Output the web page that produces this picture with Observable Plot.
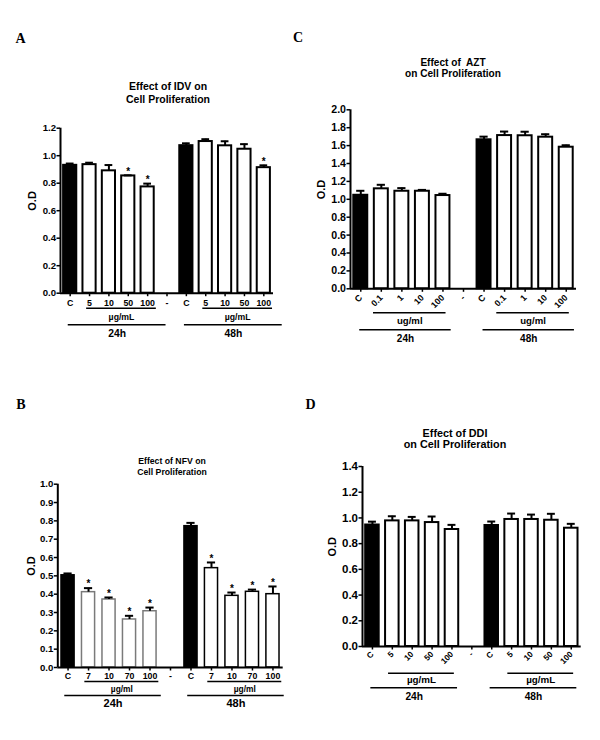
<!DOCTYPE html>
<html><head><meta charset="utf-8">
<script src="https://cdn.jsdelivr.net/npm/d3@7"></script>
<script src="https://cdn.jsdelivr.net/npm/@observablehq/plot@0.6"></script>
<style>
html,body{margin:0;padding:0;background:#fff;}
#page{position:relative;width:600px;height:740px;overflow:hidden;background:#fff;font-family:"Liberation Sans",Arial,sans-serif;}
.lbl{position:absolute;transform:translate(-50%,-50%);white-space:pre;line-height:1;font-weight:bold;color:#000;}
.letter{font-family:"Liberation Serif","Times New Roman",serif;}
.panel{position:absolute;}
.panel svg{overflow:visible;}
</style></head><body><div id="page"></div>
<script>
// ---------- data ----------
const groupNames = ["24h", "48h"];
const yLabel = "O.D";

const lettersList = ["A", "C", "B", "D"];

const titleA = ["Effect of IDV on", "Cell Proliferation"];
const labelsA = ["C","5","10","50","100","-","C","5","10","50","100"];
const odA  = [0.930, 0.935, 0.890, 0.853, 0.773, null, 1.073, 1.103, 1.072, 1.047, 0.913];
const semA = [0.013, 0.014, 0.042, 0.004, 0.024, null, 0.017, 0.017, 0.033, 0.037, 0.017];
const sigA = [0,0,0,1,1,0,0,0,0,0,1];
const unitA = "µg/mL";
const yTicksA = [0, 0.2, 0.4, 0.6, 0.8, 1.0, 1.2];

const titleC = ["Effect of  AZT", "on Cell Proliferation"];
const labelsC = ["C","0.1","1","10","100","-","C","0.1","1","10","100"];
const odC  = [1.045, 1.117, 1.090, 1.090, 1.042, null, 1.665, 1.712, 1.710, 1.694, 1.582];
const semC = [0.050, 0.045, 0.035, 0.015, 0.020, null, 0.035, 0.045, 0.045, 0.033, 0.022];
const sigC = [0,0,0,0,0,0,0,0,0,0,0];
const unitC = "ug/ml";
const yTicksC = [0, 0.2, 0.4, 0.6, 0.8, 1.0, 1.2, 1.4, 1.6, 1.8, 2.0];

const titleB = ["Effect of NFV on", "Cell Proliferation"];
const labelsB = ["C","7","10","70","100","-","C","7","10","70","100"];
const odB  = [0.503, 0.411, 0.371, 0.262, 0.307, null, 0.771, 0.542, 0.391, 0.413, 0.400];
const semB = [0.010, 0.022, 0.011, 0.020, 0.020, null, 0.018, 0.031, 0.018, 0.012, 0.042];
const sigB = [0,1,1,1,1,0,0,1,1,1,1];
const unitB = "µg/ml";
const yTicksB = [0, 0.1, 0.2, 0.3, 0.4, 0.5, 0.6, 0.7, 0.8, 0.9, 1.0];

const titleD = ["Effect of DDI", "on Cell Proliferation"];
const labelsD = ["C","5","10","50","100","-","C","5","10","50","100"];
const odD  = [0.945, 0.977, 0.977, 0.964, 0.910, null, 0.941, 0.988, 0.988, 0.982, 0.920];
const semD = [0.026, 0.036, 0.031, 0.047, 0.036, null, 0.031, 0.046, 0.038, 0.050, 0.034];
const sigD = [0,0,0,0,0,0,0,0,0,0,0];
const unitD = "µg/mL";
const yTicksD = [0, 0.2, 0.4, 0.6, 0.8, 1.0, 1.2, 1.4];

// ---------- layout (page pixels) ----------
const layouts = {
  A: {left:0, top:100, w:300, h:260, fl:60, fr:273, ft:127.7, fb:292.7, hw:0.34, bsw:2, cap:0.2,
      yfs:9.6, xfs:8.8, rot:0, xts:3.5, xtp:3.4, odx:28.3, udy:15, utdy:24, gdy:31.6, gtdy:40.6,
      u1:-0.15, u2:0.45, g1:-0.1, g2:0.95, ufs:8.7, gfs:10.3, tx:168, ty:[86,99], tfs:10.5, lx:20.5, ly:39, gray:false},
  C: {left:300, top:90, w:300, h:270, fl:350, fr:576, ft:109.3, fb:288.3, hw:0.34, bsw:2, cap:0.2,
      yfs:10.6, xfs:8.8, rot:-45, xts:3.5, xtp:4, odx:29, udy:24, utdy:32.4, gdy:41, gtdy:50,
      u1:-0.38, u2:0.15, g1:-0.05, g2:0.4, ufs:9.6, gfs:10, tx:453, ty:[62.7,74.3], tfs:10.1, lx:298, ly:38, gray:false},
  B: {left:0, top:470, w:300, h:270, fl:57.3, fr:282.7, ft:483.7, fb:667, hw:0.32, bsw:1.5, cap:0.2,
      yfs:9.6, xfs:8.8, rot:0, xts:3.5, xtp:2, odx:26.3, udy:14, utdy:21.3, gdy:28, gtdy:35.7,
      u1:-0.18, u2:0.43, g1:-0.16, g2:0.55, ufs:8.4, gfs:11, tx:172, ty:[461,471.7], tfs:8.7, lx:21, ly:405, gray:true},
  D: {left:300, top:450, w:300, h:290, fl:362, fr:580.7, ft:466, fb:646, hw:0.34, bsw:2, cap:0.2,
      yfs:11.5, xfs:8.2, rot:-45, xts:3.5, xtp:3, odx:30.3, udy:26.7, utdy:33.3, gdy:41.3, gtdy:50.7,
      u1:-0.19, u2:0.12, g1:-0.08, g2:0.28, ufs:9.8, gfs:10.2, tx:455, ty:[432.7,444], tfs:10.8, lx:310.5, ly:405, gray:false}
};

const panels = [
  {key:"A", title:titleA, labels:labelsA, od:odA, sem:semA, sig:sigA, unit:unitA, yTicks:yTicksA},
  {key:"C", title:titleC, labels:labelsC, od:odC, sem:semC, sig:sigC, unit:unitC, yTicks:yTicksC},
  {key:"B", title:titleB, labels:labelsB, od:odB, sem:semB, sig:sigB, unit:unitB, yTicks:yTicksB},
  {key:"D", title:titleD, labels:labelsD, od:odD, sem:semD, sig:sigD, unit:unitD, yTicks:yTicksD}
];

const page = document.getElementById("page");
const font = "Liberation Sans, Arial, sans-serif";

function drawPanel(p) {
  const L = layouts[p.key];
  // groups split at the "-" spacer
  const groups = [];
  let start = 0;
  p.labels.forEach((l, i) => { if (l === "-") { groups.push([start, i - 1]); start = i + 1; } });
  groups.push([start, p.labels.length - 1]);
  const gdata = groups.map(([s, e], k) => ({name: groupNames[k], c: s, d1: s + 1, d2: e, unit: p.unit}));
  const groupOf = i => groups.findIndex(([s, e]) => i >= s && i <= e);

  const data = p.labels.map((lab, i) => ({pos: i, lab, od: p.od[i], sem: p.sem[i], sig: p.sig[i], g: groupOf(i)}))
    .filter(d => d.od != null);

  const n = p.labels.length;
  const chart = Plot.plot({
    width: L.w, height: L.h,
    marginLeft: L.fl - L.left, marginRight: L.left + L.w - L.fr,
    marginTop: L.ft - L.top, marginBottom: L.top + L.h - L.fb,
    x: {domain: [-0.5, n - 0.5], axis: null},
    y: {domain: [0, p.yTicks[p.yTicks.length - 1]], axis: null},
    style: {background: "none", fontFamily: font, fontWeight: "bold", fontSize: "10px", color: "black", overflow: "visible"},
    marks: [
      Plot.rect(data, {
        x1: d => d.pos - L.hw, x2: d => d.pos + L.hw, y1: 0, y2: "od",
        fill: d => d.lab === "C" ? "black" : "white",
        stroke: d => (L.gray && d.g === 0 && d.lab !== "C") ? "#7a7a7a" : "black",
        strokeWidth: L.bsw
      }),
      Plot.ruleX(data, {x: "pos", y1: "od", y2: d => d.od + d.sem, stroke: "black", strokeWidth: 2}),
      Plot.ruleY(data, {y: d => d.od + d.sem, x1: d => d.pos - L.cap, x2: d => d.pos + L.cap, stroke: "black", strokeWidth: 2}),
      Plot.text(data.filter(d => d.sig), {x: "pos", y: d => d.od + d.sem, text: () => "*", dy: -4, fontSize: 10}),
      Plot.ruleX([-0.5], {x: d => d, stroke: "black", strokeWidth: 2}),
      Plot.ruleY([0], {y: d => d, stroke: "black", strokeWidth: 2}),
      Plot.axisY({ticks: p.yTicks, tickFormat: d3.format(".1f"), tickSize: 3.5, tickPadding: L.key === "B" ? 2 : 1,
        strokeWidth: 1.5, fontSize: L.yfs, fontWeight: "bold", label: null}),
      Plot.axisX({ticks: d3.range(n), tickFormat: i => p.labels[i], tickSize: L.xts, tickPadding: L.xtp,
        tickRotate: L.rot, strokeWidth: 1.5, fontSize: L.xfs, fontWeight: "bold", label: null}),
      Plot.text([yLabel], {text: d => d, frameAnchor: "left", rotate: -90, dx: -L.odx, fontSize: 11, fontWeight: "bold"}),
      Plot.ruleY(gdata, {y: 0, x1: d => d.d1 + L.u1, x2: d => d.d2 + L.u2, dy: L.udy, stroke: "black", strokeWidth: 1.5}),
      Plot.text(gdata, {x: d => (d.d1 + L.u1 + d.d2 + L.u2) / 2, y: 0, text: "unit", dy: L.utdy, fontSize: L.ufs}),
      Plot.ruleY(gdata, {y: 0, x1: d => d.c + L.g1, x2: d => d.d2 + L.g2, dy: L.gdy, stroke: "black", strokeWidth: 1.5}),
      Plot.text(gdata, {x: d => (d.c + L.g1 + d.d2 + L.g2) / 2, y: 0, text: "name", dy: L.gtdy, fontSize: L.gfs})
    ]
  });
  const wrap = document.createElement("div");
  wrap.className = "panel";
  wrap.style.left = L.left + "px";
  wrap.style.top = L.top + "px";
  wrap.appendChild(chart);
  page.appendChild(wrap);
}

panels.forEach(drawPanel);

function addLabel(text, x, y, size, cls) {
  const d = document.createElement("div");
  d.className = "lbl" + (cls ? " " + cls : "");
  d.textContent = text;
  d.style.left = x + "px";
  d.style.top = y + "px";
  d.style.fontSize = size + "px";
  page.appendChild(d);
}

panels.forEach((p, k) => {
  const L = layouts[p.key];
  p.title.forEach((t, j) => addLabel(t, L.tx, L.ty[j], L.tfs));
  addLabel(lettersList[k], L.lx, L.ly, 14, "letter");
});
</script>
</body></html>
